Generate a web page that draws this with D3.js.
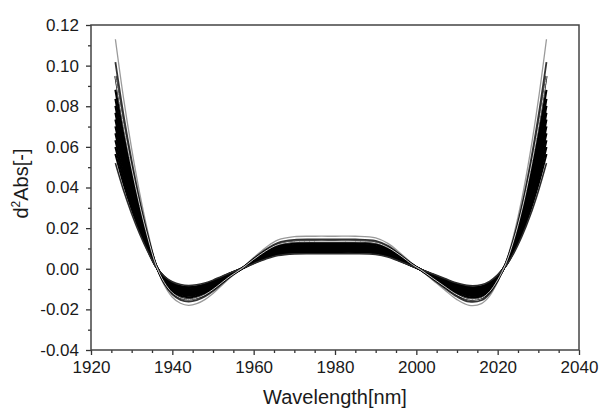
<!DOCTYPE html>
<html><head><meta charset="utf-8">
<script src="https://cdn.jsdelivr.net/npm/d3@7"></script>
<style>body{margin:0;background:#fff}svg{display:block}</style>
</head><body><svg id="c" width="600" height="410"></svg>
<script>
// ---- data (one array per spectrum, d2Abs vs wavelength) ----
const wavelengths = [1926,1928,1930,1932,1934,1936,1938,1940,1942,1944,1946,1948,1950,1952,1954,1957,1960,1963,1966,1970,1975,1980,1985,1990,1993,1996,1999,2001,2004,2007,2010,2013,2016,2018,2020,2022,2024,2026,2028,2030,2032];
const spec01 = [0.113,0.084,0.059,0.037,0.018,0.002,-0.008,-0.014,-0.017,-0.018,-0.0172,-0.0152,-0.0122,-0.0085,-0.0048,0,0.0055,0.0105,0.0142,0.0158,0.016,0.016,0.016,0.0152,0.0125,0.0078,0.0025,-0.0005,-0.0055,-0.0105,-0.0152,-0.018,-0.0172,-0.0135,-0.0065,0.003,0.017,0.035,0.057,0.083,0.113];
const spec02 = [0.1017,0.0756,0.0531,0.0333,0.0162,0.0018,-0.0072,-0.0126,-0.0153,-0.0162,-0.0155,-0.0137,-0.0110,-0.0077,-0.0043,0,0.0050,0.0095,0.0128,0.0142,0.0144,0.0144,0.0144,0.0137,0.0113,0.0070,0.0023,-0.0005,-0.0050,-0.0095,-0.0137,-0.0162,-0.0155,-0.0122,-0.0059,0.0027,0.0153,0.0315,0.0513,0.0747,0.1017];
const spec03 = [0.0949,0.0706,0.0496,0.0311,0.0151,0.0017,-0.0067,-0.0118,-0.0143,-0.0151,-0.0144,-0.0128,-0.0102,-0.0071,-0.0040,0,0.0046,0.0088,0.0119,0.0133,0.0134,0.0134,0.0134,0.0128,0.0105,0.0066,0.0021,-0.0004,-0.0046,-0.0088,-0.0128,-0.0151,-0.0144,-0.0113,-0.0055,0.0025,0.0143,0.0294,0.0479,0.0697,0.0949];
const spec04 = [0.0881,0.0655,0.0460,0.0289,0.0140,0.0016,-0.0062,-0.0109,-0.0133,-0.0140,-0.0134,-0.0119,-0.0095,-0.0066,-0.0037,0,0.0043,0.0082,0.0111,0.0123,0.0125,0.0125,0.0125,0.0119,0.0098,0.0061,0.0020,-0.0004,-0.0043,-0.0082,-0.0119,-0.0140,-0.0134,-0.0105,-0.0051,0.0023,0.0133,0.0273,0.0445,0.0647,0.0881];
const spec05 = [0.0836,0.0622,0.0437,0.0274,0.0133,0.0015,-0.0059,-0.0104,-0.0126,-0.0133,-0.0127,-0.0112,-0.0090,-0.0063,-0.0036,0,0.0041,0.0078,0.0105,0.0117,0.0118,0.0118,0.0118,0.0112,0.0093,0.0058,0.0019,-0.0004,-0.0041,-0.0078,-0.0112,-0.0133,-0.0127,-0.0100,-0.0048,0.0022,0.0126,0.0259,0.0422,0.0614,0.0836];
const spec06 = [0.0802,0.0596,0.0419,0.0263,0.0128,0.0014,-0.0057,-0.0099,-0.0121,-0.0128,-0.0122,-0.0108,-0.0087,-0.0060,-0.0034,0,0.0039,0.0075,0.0101,0.0112,0.0114,0.0114,0.0114,0.0108,0.0089,0.0055,0.0018,-0.0004,-0.0039,-0.0075,-0.0108,-0.0128,-0.0122,-0.0096,-0.0046,0.0021,0.0121,0.0249,0.0405,0.0589,0.0802];
const spec07 = [0.0768,0.0571,0.0401,0.0252,0.0122,0.0014,-0.0054,-0.0095,-0.0116,-0.0122,-0.0117,-0.0103,-0.0083,-0.0058,-0.0033,0,0.0037,0.0071,0.0097,0.0107,0.0109,0.0109,0.0109,0.0103,0.0085,0.0053,0.0017,-0.0003,-0.0037,-0.0071,-0.0103,-0.0122,-0.0117,-0.0092,-0.0044,0.0020,0.0116,0.0238,0.0388,0.0564,0.0768];
const spec08 = [0.0735,0.0546,0.0384,0.0241,0.0117,0.0013,-0.0052,-0.0091,-0.0111,-0.0117,-0.0112,-0.0099,-0.0079,-0.0055,-0.0031,0,0.0036,0.0068,0.0092,0.0103,0.0104,0.0104,0.0104,0.0099,0.0081,0.0051,0.0016,-0.0003,-0.0036,-0.0068,-0.0099,-0.0117,-0.0112,-0.0088,-0.0042,0.0020,0.0111,0.0228,0.0371,0.0540,0.0735];
const spec09 = [0.0701,0.0521,0.0366,0.0229,0.0112,0.0012,-0.0050,-0.0087,-0.0105,-0.0112,-0.0107,-0.0094,-0.0076,-0.0053,-0.0030,0,0.0034,0.0065,0.0088,0.0098,0.0099,0.0099,0.0099,0.0094,0.0078,0.0048,0.0016,-0.0003,-0.0034,-0.0065,-0.0094,-0.0112,-0.0107,-0.0084,-0.0040,0.0019,0.0105,0.0217,0.0353,0.0515,0.0701];
const spec10 = [0.0667,0.0496,0.0348,0.0218,0.0106,0.0012,-0.0047,-0.0083,-0.0100,-0.0106,-0.0101,-0.0090,-0.0072,-0.0050,-0.0028,0,0.0032,0.0062,0.0084,0.0093,0.0094,0.0094,0.0094,0.0090,0.0074,0.0046,0.0015,-0.0003,-0.0032,-0.0062,-0.0090,-0.0106,-0.0101,-0.0080,-0.0038,0.0018,0.0100,0.0207,0.0336,0.0490,0.0667];
const spec11 = [0.0633,0.0470,0.0330,0.0207,0.0101,0.0011,-0.0045,-0.0078,-0.0095,-0.0101,-0.0096,-0.0085,-0.0068,-0.0048,-0.0027,0,0.0031,0.0059,0.0080,0.0088,0.0090,0.0090,0.0090,0.0085,0.0070,0.0044,0.0014,-0.0003,-0.0031,-0.0059,-0.0085,-0.0101,-0.0096,-0.0076,-0.0036,0.0017,0.0095,0.0196,0.0319,0.0465,0.0633];
const spec12 = [0.0599,0.0445,0.0313,0.0196,0.0095,0.0011,-0.0042,-0.0074,-0.0090,-0.0095,-0.0091,-0.0081,-0.0065,-0.0045,-0.0025,0,0.0029,0.0056,0.0075,0.0084,0.0085,0.0085,0.0085,0.0081,0.0066,0.0041,0.0013,-0.0003,-0.0029,-0.0056,-0.0081,-0.0095,-0.0091,-0.0072,-0.0034,0.0016,0.0090,0.0186,0.0302,0.0440,0.0599];
const spec13 = [0.0565,0.0420,0.0295,0.0185,0.0090,0.0010,-0.0040,-0.0070,-0.0085,-0.0090,-0.0086,-0.0076,-0.0061,-0.0043,-0.0024,0,0.0028,0.0053,0.0071,0.0079,0.0080,0.0080,0.0080,0.0076,0.0063,0.0039,0.0013,-0.0003,-0.0028,-0.0053,-0.0076,-0.0090,-0.0086,-0.0068,-0.0033,0.0015,0.0085,0.0175,0.0285,0.0415,0.0565];
const spec14 = [0.0520,0.0386,0.0271,0.0170,0.0083,0.0009,-0.0037,-0.0064,-0.0078,-0.0083,-0.0079,-0.0070,-0.0056,-0.0039,-0.0022,0,0.0025,0.0048,0.0065,0.0073,0.0074,0.0074,0.0074,0.0070,0.0058,0.0036,0.0012,-0.0002,-0.0025,-0.0048,-0.0070,-0.0083,-0.0079,-0.0062,-0.0030,0.0014,0.0078,0.0161,0.0262,0.0382,0.0520];
const xTickValues = [1920,1940,1960,1980,2000,2020,2040];
const yTickValues = [-0.04,-0.02,0,0.02,0.04,0.06,0.08,0.10,0.12];
const xTitle = "Wavelength[nm]";

// ---- drawing ----
const svg = d3.select("#c");
const m = {l:91, r:579, t:25, b:350};
const x = d3.scaleLinear().domain([1920,2040]).range([m.l,m.r]);
const y = d3.scaleLinear().domain([-0.04,0.12]).range([m.b,m.t]);
const font = "'Liberation Sans', Arial, sans-serif";

const line = d3.line().x((d,i)=>x(wavelengths[i])).y(d=>y(d)).curve(d3.curveCatmullRom.alpha(0.5));
const g = svg.append("g");
const styled = [
  {v:spec01, c:"#9a9a9a", w:1.3},
  {v:spec02, c:"#333", w:1.8},
  {v:spec03, c:"#000", w:2.1},
  {v:spec04, c:"#000", w:2.1},{v:spec05, c:"#000", w:2.1},{v:spec06, c:"#000", w:2.1},
  {v:spec07, c:"#000", w:2.1},{v:spec08, c:"#000", w:2.1},{v:spec09, c:"#000", w:2.1},
  {v:spec10, c:"#000", w:2.1},{v:spec11, c:"#000", w:2.1},{v:spec12, c:"#000", w:2.1},
  {v:spec13, c:"#000", w:2.1},{v:spec14, c:"#2a2a2a", w:1.6},
  {v:spec03, c:"#e4e4e4", w:0.9}
];
styled.forEach(s=>{
  g.append("path").datum(s.v).attr("d",line).attr("fill","none")
   .attr("stroke",s.c).attr("stroke-width",s.w).attr("stroke-linejoin","round");
});

// minor ticks
const xMinor = d3.range(1925,2040,5).filter(v=>v%20!==0);
const yMinor = d3.range(-3,12,2).map(v=>v/100);
svg.append("g").attr("transform",`translate(0,${m.b})`)
  .call(d3.axisBottom(x).tickValues(xMinor).tickSize(3).tickFormat(""))
  .call(a=>a.select(".domain").remove()).selectAll("line").attr("stroke","#333").attr("stroke-width",1.3);
svg.append("g").attr("transform",`translate(${m.l},0)`)
  .call(d3.axisLeft(y).tickValues(yMinor).tickSize(3).tickFormat(""))
  .call(a=>a.select(".domain").remove()).selectAll("line").attr("stroke","#333").attr("stroke-width",1.3);

// major axes
const xa = svg.append("g").attr("transform",`translate(0,${m.b})`)
  .call(d3.axisBottom(x).tickValues(xTickValues).tickSize(5).tickPadding(6).tickFormat(d=>String(d)));
const ya = svg.append("g").attr("transform",`translate(${m.l},0)`)
  .call(d3.axisLeft(y).tickValues(yTickValues).tickSize(5).tickPadding(7).tickFormat(d=>d.toFixed(2)));
[xa,ya].forEach(a=>{
  a.select(".domain").remove();
  a.selectAll("line").attr("stroke","#333").attr("stroke-width",1.3);
  a.selectAll("text").attr("fill","#1a1a1a").style("font-family",font).style("font-size","17px");
});

// frame
svg.append("rect").attr("x",m.l).attr("y",m.t).attr("width",m.r-m.l).attr("height",m.b-m.t)
  .attr("fill","none").attr("stroke","#444").attr("stroke-width",1.5);

// titles
svg.append("text").attr("x",(m.l+m.r)/2).attr("y",404).attr("text-anchor","middle")
  .attr("fill","#1a1a1a").style("font-family",font).style("font-size","20px").text(xTitle);
const yt = svg.append("text").attr("transform",`translate(28,${(m.t+m.b)/2 - 4}) rotate(-90)`)
  .attr("text-anchor","middle").attr("fill","#1a1a1a").style("font-family",font).style("font-size","20px");
yt.append("tspan").text("d");
yt.append("tspan").attr("dy",-8).style("font-size","12px").text("2");
yt.append("tspan").attr("dy",8).text("Abs[-]");
</script></body></html>
